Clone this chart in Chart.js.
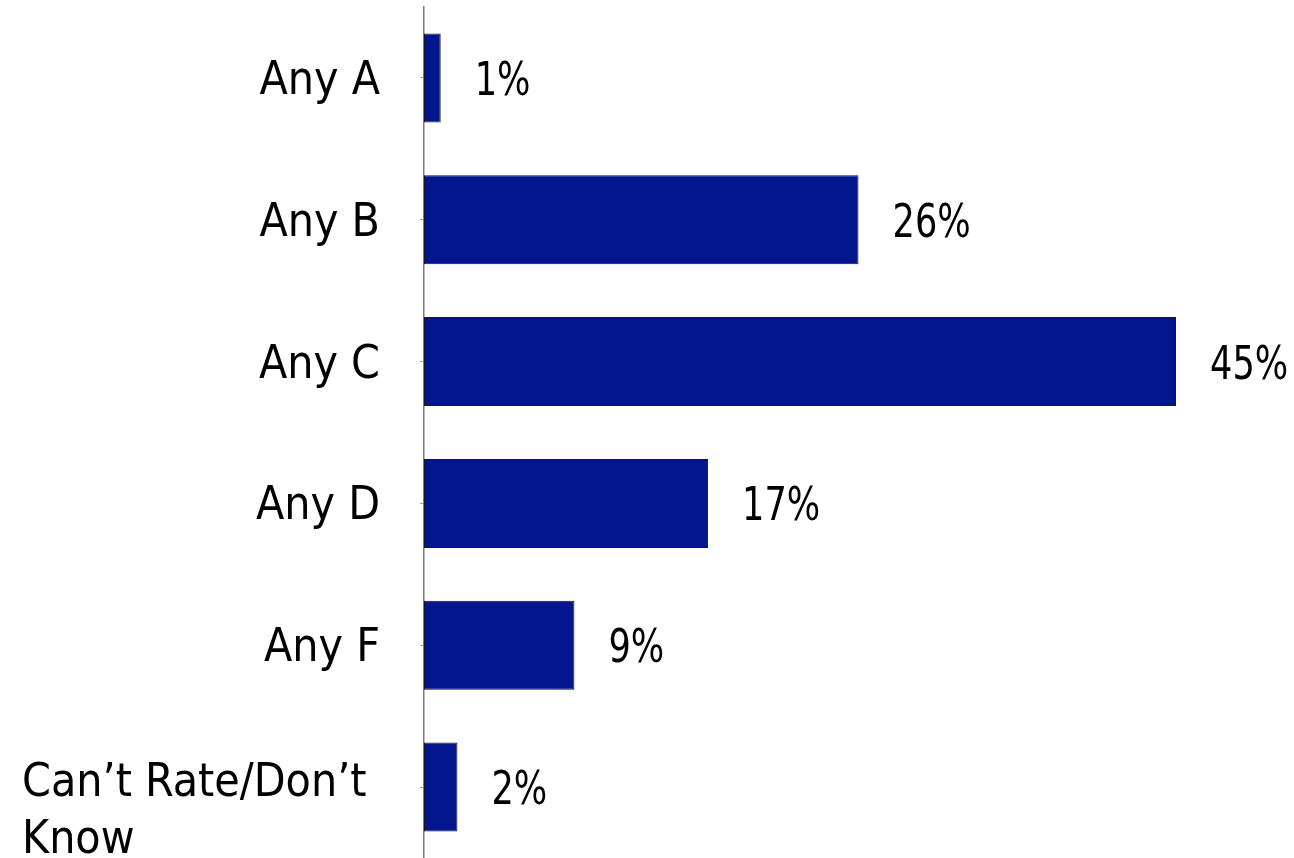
<!DOCTYPE html>
<html><head><meta charset="utf-8">
<script src="https://cdn.jsdelivr.net/npm/chart.js@4"></script>
<style>html,body{margin:0;padding:0;background:#fff}#wrap{width:1294px;height:858px}</style>
</head>
<body>
<div id="wrap"><canvas id="c" width="1294" height="858"></canvas></div>
<script>
const categories = ['Any A', 'Any B', 'Any C', 'Any D', 'Any F', ['Can\u2019t Rate/Don\u2019t', 'Know']];
const values = [1, 26, 45, 17, 9, 2];
const valueLabels = ['1%', '26%', '45%', '17%', '9%', '2%'];
const xMin = 0, xMax = 52;

const FONT = '46px "DejaVu Sans Condensed", "DejaVu Sans", sans-serif';

const labelPlugin = {
  id: 'labels',
  afterDraw(chart) {
    const ctx = chart.ctx;
    const ys = chart.scales.y;
    ctx.save();
    ctx.font = FONT;
    ctx.fillStyle = '#000';
    ctx.textBaseline = 'alphabetic';
    ctx.textAlign = 'left';
    // category labels: block right-aligned, lines left-aligned
    const rightEdge = 380;
    categories.forEach((lab, i) => {
      const lines = Array.isArray(lab) ? lab : [lab];
      const cy = ys.getPixelForValue(i);
      const w = Math.max(...lines.map(l => ctx.measureText(l).width));
      const x0 = lines.length === 1 ? rightEdge - w : 22;
      const lh = 57;
      const first = lines.length === 1 ? cy + 16 : cy + 9;
      lines.forEach((l, k) => ctx.fillText(l, x0, first + k * lh));
    });
    // value labels
    const meta = chart.getDatasetMeta(0);
    meta.data.forEach((bar, i) => {
      ctx.save();
      ctx.translate(bar.x + 34, bar.y + 17);
      ctx.scale(0.85, 1);
      ctx.fillText(valueLabels[i], 0, 0);
      ctx.restore();
    });
    ctx.restore();
  }
};

new Chart(document.getElementById('c'), {
  type: 'bar',
  data: {
    labels: categories,
    datasets: [{
      data: values,
      backgroundColor: '#03168E',
      borderColor: '#15152a',
      borderWidth: 1,
      borderSkipped: false,
      barPercentage: 0.6275,
      categoryPercentage: 1
    }]
  },
  options: {
    indexAxis: 'y',
    responsive: false,
    animation: false,
    layout: { padding: { left: 420, right: 1, top: 7, bottom: 0 } },
    plugins: { legend: { display: false }, tooltip: { enabled: false } },
    scales: {
      x: { display: false, min: xMin, max: xMax },
      y: {
        offset: true,
        ticks: { display: false },
        grid: { display: true, offset: false, drawOnChartArea: false, drawTicks: true, tickLength: 4, color: '#9a9a9a', lineWidth: 1 },
        border: { display: true, color: '#7a7a7a', width: 1.5 },
        afterFit(s) { s.width = 4; }
      }
    }
  },
  plugins: [labelPlugin]
});
</script>
</body></html>
